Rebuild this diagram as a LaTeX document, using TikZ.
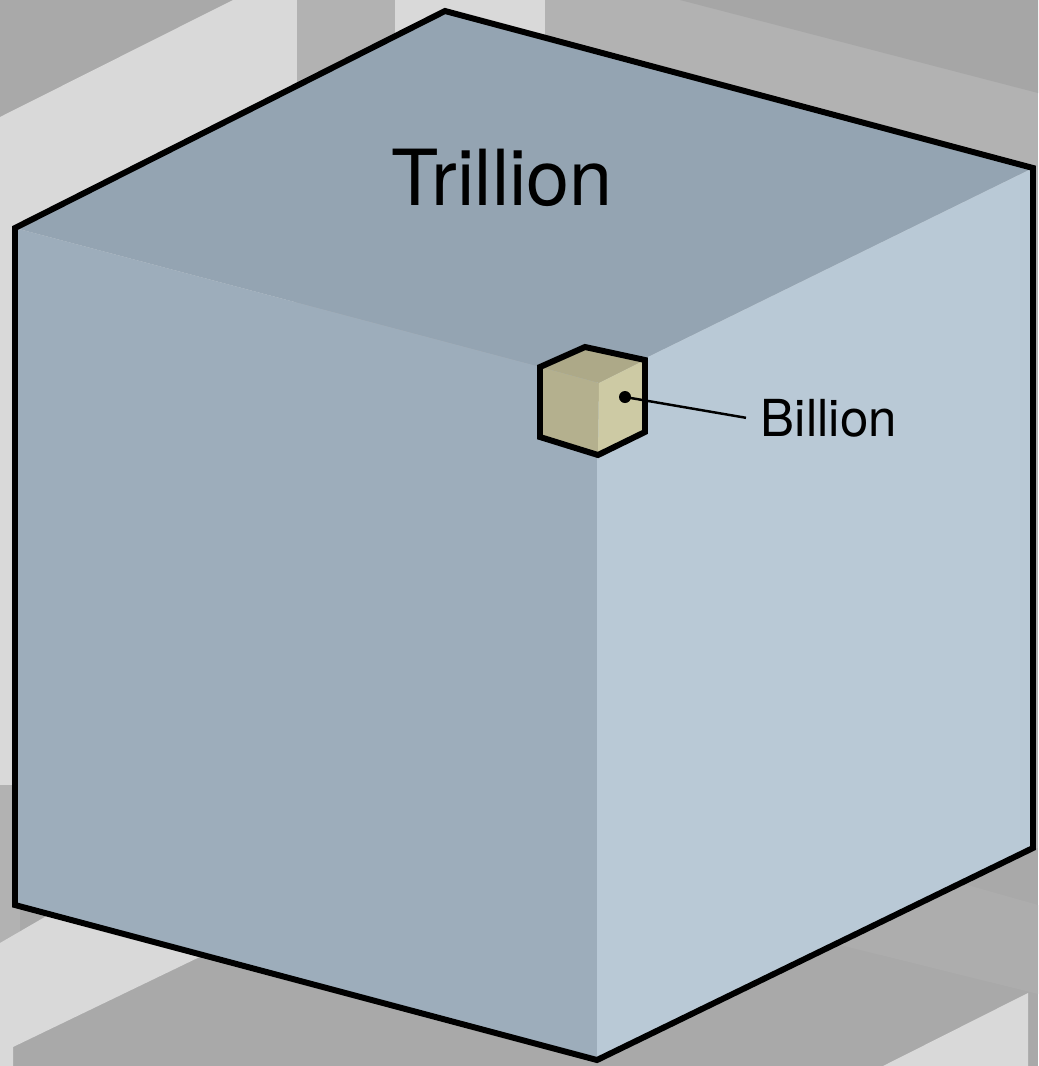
\documentclass[tikz,border=0pt]{standalone}
\usepackage{fontspec}
\setmainfont{TeX Gyre Heros}

\definecolor{bgdark}{HTML}{A9A9A9}
\definecolor{bgmid}{HTML}{B2B2B2}
\definecolor{bgband}{HTML}{ADADAD}
\definecolor{bglight}{HTML}{D9D9D9}
\definecolor{bgtop}{HTML}{A6A6A6}
\definecolor{bigtop}{HTML}{94A4B2}
\definecolor{bigleft}{HTML}{9DADBB}
\definecolor{bigright}{HTML}{B9C9D6}
\definecolor{smalltop}{HTML}{ADA988}
\definecolor{smallleft}{HTML}{B4B08E}
\definecolor{smallright}{HTML}{CDCAA4}

\begin{document}
\begin{tikzpicture}[x=0.01cm, y=-0.01cm,
    outline/.style={draw=black, line width=1.7pt, line join=miter},
    leader/.style={draw=black, line width=0.7pt}]

    \useasboundingbox (0,0) rectangle (1038,1066);

    % 1. Background blocks behind the cube
    \fill[bgdark] (0,0) rectangle (1038,1066);
    \fill[bglight] (0,117) -- (233,0) -- (297,0) -- (297,300) -- (15,785) -- (0,785) -- cycle;
    \fill[bgmid] (297,0) rectangle (395,200);
    \fill[bglight] (395,0) rectangle (545,200);
    \fill[bgmid] (545,0) rectangle (1038,848);
    \fill[bgtop] (680,0) -- (1038,0) -- (1038,93) -- cycle;
    \fill[bgmid] (0,785) rectangle (20,943);
    \fill[bglight] (0,943) -- (50,914) -- (210,952) -- (13,1047) -- (13,1066) -- (0,1066) -- cycle;
    \fill[bgband] (820,940) -- (1038,994) -- (1038,905) -- (950,880) -- cycle;
    \fill[bglight] (883,1066) -- (1028,993) -- (1028,1066) -- cycle;

    % 2. Corners of the big cube (T)rillion and the small cube (b)illion
    \foreach \name/\x/\y in {
        T0/445/11, TL/15/228, TR/1033/168, TC/597/382,
        TBL/15/905, TB/597/1060, TBR/1033/848,
        b0/585/347, bL/540/367, bR/645/360, bC/599/383,
        bBL/540/437, bB/598/455, bBR/645/432%
    } {
        \coordinate (\name) at (\x,\y);
    }

    % 3. Faces of the big cube
    \fill[bigtop] (T0) -- (TL) -- (TC) -- (TR) -- cycle;
    \fill[bigleft] (TL) -- (TC) -- (TB) -- (TBL) -- cycle;
    \fill[bigright] (TC) -- (TR) -- (TBR) -- (TB) -- cycle;
    \draw[outline] (T0) -- (TL) -- (TBL) -- (TB) -- (TBR) -- (TR) -- cycle;

    % 4. Faces of the small cube sitting in the front corner
    \fill[smalltop] (b0) -- (bL) -- (bC) -- (bR) -- cycle;
    \fill[smallleft] (bL) -- (bC) -- (bB) -- (bBL) -- cycle;
    \fill[smallright] (bC) -- (bR) -- (bBR) -- (bB) -- cycle;
    \draw[outline] (b0) -- (bL) -- (bBL) -- (bB) -- (bBR) -- (bR) -- cycle;

    % 5. Labels
    \node[font=\fontsize{22}{26}\selectfont] (trillion) at (502,178) {Trillion};
    \node[circle, fill=black, inner sep=0pt, minimum size=0.12cm] (dot) at (625,397) {};
    \node[anchor=base west, inner sep=4pt, font=\fontsize{14.5}{17}\selectfont]
        (billion) at (746,436) {Billion};
    \draw[leader] (dot.center) -- (billion.west);

\end{tikzpicture}
\end{document}
